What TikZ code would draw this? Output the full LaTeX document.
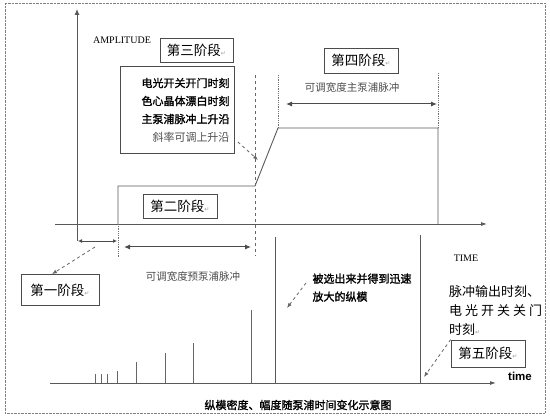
\documentclass[tikz,border=0pt]{standalone}
\usepackage{fontspec}
\setmainfont{Liberation Serif}
\setsansfont{Liberation Sans}
\newfontfamily\cjk{Noto Sans CJK SC}
\newfontfamily\cjkbold{Noto Sans CJK SC}[FakeBold=1.5]
\newfontfamily\symfont{DejaVu Sans}
\newcommand{\retmark}{{\symfont\fontsize{6}{6}\selectfont\color{black!40}↵}}
\usetikzlibrary{arrows.meta, positioning}

\begin{document}
\begin{tikzpicture}[
    x=1pt, y=-1pt,
    line/.style={black!65, line width=0.9pt},
    stage/.style={draw=black!70, line width=0.8pt, inner sep=0pt,
                  font=\cjk\fontsize{13.5}{14}\selectfont},
    note/.style={font=\cjk\fontsize{10.5}{12}\selectfont, text=black!70},
    hint/.style={dashed, black!60, line width=0.8pt, -{Latex[length=5pt, width=4pt]}},
    spanarr/.style={black!70, line width=1pt, {Latex[length=6pt, width=5pt]}-{Latex[length=6pt, width=5pt]}},
    guide/.style={densely dotted, black!55, line width=0.8pt},
    spike/.style={black!60, line width=1pt}
]
\useasboundingbox (0,0) rectangle (550,417);
\draw[densely dotted, black!50] (5,3) rectangle (545,413);

% Upper plot: pump pulse
\draw[line, -{Latex[length=6pt, width=5pt]}] (77,241) -- (77,9);
\draw[line, -{Latex[length=6pt, width=4pt]}] (55,224) -- (487,224);
\draw[line] (118,224) -- (118,186) -- (255,186) -- (278,128) -- (438,128) -- (438,224);
\draw[guide] (118,224) -- (118,258);
\draw[dashed, black!60, line width=0.8pt] (255,75) -- (255,256);
\draw[guide] (278,75) -- (278,128);
\draw[guide] (438,73) -- (438,128);

\node[font=\rmfamily\fontsize{10}{10}\selectfont] (amp) at (122,40) {AMPLITUDE};

% Stage boxes
\node[stage, minimum width=73pt, minimum height=24pt] (s3) at (196.5,50) {第三阶段\retmark};
\node[stage, minimum width=74pt, minimum height=25pt] (s4) at (361,60.5) {第四阶段\retmark};
\node[stage, minimum width=74pt, minimum height=24pt] (s2) at (180,206) {第二阶段\retmark};
\node[stage, minimum width=78pt, minimum height=31pt] (s1) at (60,290) {第一阶段\retmark};
\node[stage, minimum width=74pt, minimum height=27pt] (s5) at (488,353.5) {第五阶段\retmark};

\node[draw=black!70, line width=0.8pt, font=\cjkbold\fontsize{11}{18}\selectfont,
      text width=104pt, align=right, inner xsep=5pt, inner ysep=11.5pt] (events) at (177.5,110)
     {电光开关开门时刻\\色心晶体漂白时刻\\主泵浦脉冲上升沿\\{\cjk\color{black!70}斜率可调上升沿}};

% Widths
\node[note] (mainlabel) at (352,88) {可调宽度主泵浦脉冲};
\node[note] (prelabel) at (193,277) {可调宽度预泵浦脉冲};
\coordinate (m1) at (286,104);
\coordinate (m2) at (437,104);
\draw[spanarr] (m1) -- (m2);
\coordinate (a1) at (78,241);
\coordinate (a2) at (117,241);
\draw[black!70, line width=0.9pt, {Latex[length=4pt, width=4pt]}-{Latex[length=4pt, width=4pt]}] (a1) -- (a2);
\coordinate (b1) at (124,247);
\coordinate (b2) at (251,247);
\draw[spanarr] (b1) -- (b2);

% Hint arrows
\coordinate (slopept) at (258,160);
\draw[hint] ([shift={(3,-12)}]events.south east) -- (slopept);
\coordinate (s1tail) at (95,247);
\draw[hint] (s1tail) -- ([xshift=-8pt]s1.north);

% Lower plot: longitudinal modes
\draw[line, -{Latex[length=6pt, width=4pt]}] (50,383) -- (496,383);
\foreach \x/\h in {95/374, 101/374, 107/374, 117/371, 136/362, 165/353, 193/343, 251/310}
    \draw[spike] (\x,383) -- (\x,\h);
\draw[line] (275,237) -- (275,383);
\draw[line] (420,235) -- (420,383);

\node[font=\rmfamily\fontsize{10}{10}\selectfont] (timelabel) at (466,258) {TIME};
\node[font=\sffamily\bfseries\fontsize{11.5}{12}\selectfont] (timeaxis) at (520,376) {time};

\node[font=\cjkbold\fontsize{11}{18}\selectfont, align=left, anchor=north west] (selected) at (309,270)
     {被选出来并得到迅速\\放大的纵模};
\coordinate (seltail) at (306,283);
\coordinate (seltip) at (287,308);
\draw[hint] (seltail) -- (seltip);

\node[font=\cjk\fontsize{13}{19}\selectfont, align=left, anchor=north west, inner sep=0pt] (outtime) at (449,285)
     {脉冲输出时刻、\\\makebox[93pt][s]{电 光 开 关 关 门}\\时刻\retmark};
\coordinate (fireline) at (424,377);
\draw[hint] (s5.north west) -- (fireline);

\node[font=\cjkbold\fontsize{11}{12}\selectfont] (caption) at (298,405) {纵模密度、幅度随泵浦时间变化示意图};

\end{tikzpicture}
\end{document}
